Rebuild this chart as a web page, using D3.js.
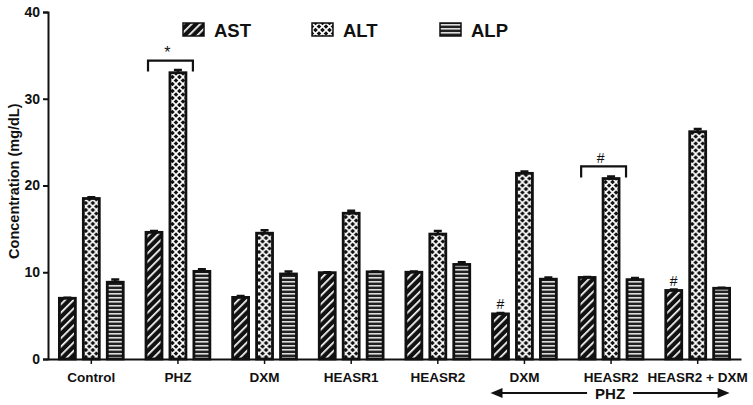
<!DOCTYPE html>
<html>
<head>
<meta charset="utf-8">
<script src="https://cdn.jsdelivr.net/npm/d3@7"></script>
<style>
  body { margin: 0; background: #fff; }
  svg { font-family: "Liberation Sans", Arial, sans-serif; font-weight: bold; }
</style>
</head>
<body>
<svg width="753" height="405"></svg>
<script>
var groups = ['Control', 'PHZ', 'DXM', 'HEASR1', 'HEASR2', 'PHZ DXM', 'PHZ HEASR2', 'PHZ HEASR2 + DXM'];
var groupLabels = ['Control', 'PHZ', 'DXM', 'HEASR1', 'HEASR2', 'DXM', 'HEASR2', 'HEASR2 + DXM'];
var series = ['AST', 'ALT', 'ALP'];
var astValues = [7.0, 14.6, 7.1, 9.95, 10.0, 5.2, 9.4, 7.9];
var altValues = [18.5, 33.0, 14.5, 16.8, 14.4, 21.4, 20.8, 26.2];
var alpValues = [8.85, 10.1, 9.8, 10.05, 10.9, 9.2, 9.15, 8.15];
var astErr = [0.05, 0.15, 0.15, 0.05, 0.1, 0.1, 0.05, 0.1];
var altErr = [0.15, 0.3, 0.35, 0.3, 0.35, 0.2, 0.25, 0.3];
var alpErr = [0.3, 0.25, 0.3, 0.05, 0.25, 0.2, 0.2, 0.05];
var yTicks = [0, 10, 20, 30, 40];

var svg = d3.select('svg');
var values = { AST: astValues, ALT: altValues, ALP: alpValues };
var errs = { AST: astErr, ALT: altErr, ALP: alpErr };

var y = d3.scaleLinear().domain([0, 40]).range([359, 12]);
var x0 = d3.scaleBand().domain(groups).range([48, 741]).paddingInner(0.24).paddingOuter(0.12);
var x1 = d3.scaleBand().domain(series).range([0, x0.bandwidth()]).paddingInner(0.25);

// fill patterns
var defs = svg.append('defs');
var pAst = defs.append('pattern').attr('id', 'p-AST').attr('patternUnits', 'userSpaceOnUse')
    .attr('width', 6).attr('height', 6).attr('patternTransform', 'rotate(45)');
pAst.append('rect').attr('width', 6).attr('height', 6).attr('fill', '#111');
pAst.append('rect').attr('x', 0).attr('width', 1.7).attr('height', 6).attr('fill', '#fff');

var pAlt = defs.append('pattern').attr('id', 'p-ALT').attr('patternUnits', 'userSpaceOnUse')
    .attr('width', 7).attr('height', 7);
pAlt.append('rect').attr('width', 7).attr('height', 7).attr('fill', '#111');
pAlt.append('path').attr('d', 'M0,0L7,7M7,0L0,7').attr('stroke', '#fff').attr('stroke-width', 1.6);

var pAlp = defs.append('pattern').attr('id', 'p-ALP').attr('patternUnits', 'userSpaceOnUse')
    .attr('width', 4).attr('height', 4);
pAlp.append('rect').attr('width', 4).attr('height', 4).attr('fill', '#222');
pAlp.append('rect').attr('y', 1).attr('width', 4).attr('height', 1.6).attr('fill', '#ddd');

// y axis
var yAxis = svg.append('g').attr('transform', 'translate(48,0)')
    .call(d3.axisLeft(y).tickValues(yTicks).tickSize(5).tickPadding(3));
yAxis.select('.domain').attr('stroke', '#111').attr('stroke-width', 2);
yAxis.selectAll('.tick line').attr('stroke', '#111').attr('stroke-width', 2);
yAxis.selectAll('.tick text').attr('font-size', 14).attr('font-weight', 'bold')
    .attr('font-family', '"Liberation Sans", Arial, sans-serif').attr('fill', '#111');

// x axis
var xAxis = svg.append('g').attr('transform', 'translate(0,' + y(0) + ')')
    .call(d3.axisBottom(x0).tickSize(5).tickSizeOuter(0).tickFormat(function (d, i) { return groupLabels[i]; }).tickPadding(8));
xAxis.select('.domain').attr('stroke', '#111').attr('stroke-width', 2);
xAxis.selectAll('.tick line').attr('stroke', '#111').attr('stroke-width', 1.5);
xAxis.selectAll('.tick text').attr('font-size', 13.5).attr('font-weight', 'bold')
    .attr('font-family', '"Liberation Sans", Arial, sans-serif').attr('fill', '#111');

svg.append('text')
    .attr('transform', 'translate(19,' + y(20.5) + ') rotate(-90)')
    .attr('text-anchor', 'middle').attr('font-size', 14.5).attr('fill', '#111')
    .text('Concentration (mg/dL)');

// bars
var rows = [];
groups.forEach(function (g, i) {
    series.forEach(function (s) {
        rows.push({ group: g, key: s, value: values[s][i], err: errs[s][i] });
    });
});

var bar = svg.append('g').selectAll('g').data(rows).enter().append('g')
    .attr('transform', function (d) { return 'translate(' + (x0(d.group) + x1(d.key)) + ',0)'; });

bar.append('rect')
    .attr('x', 1).attr('width', x1.bandwidth() - 2)
    .attr('y', function (d) { return y(d.value); })
    .attr('height', function (d) { return y(0) - y(d.value); })
    .attr('fill', function (d) { return 'url(#p-' + d.key + ')'; })
    .attr('stroke', '#111').attr('stroke-width', 2.8);

bar.append('path')
    .attr('d', function (d) {
        var c = x1.bandwidth() / 2, t = y(d.value + d.err);
        return 'M' + c + ',' + y(d.value) + 'V' + t + 'M' + (c - 4) + ',' + t + 'H' + (c + 4);
    })
    .attr('stroke', '#111').attr('stroke-width', 2.5).attr('fill', 'none');

// legend
var legendX = [183, 312, 440];
var legend = svg.append('g').selectAll('g').data(series).enter().append('g')
    .attr('transform', function (d, i) { return 'translate(' + legendX[i] + ',23)'; });
legend.append('rect').attr('width', 21).attr('height', 13)
    .attr('fill', function (d) { return 'url(#p-' + d + ')'; })
    .attr('stroke', '#111').attr('stroke-width', 1.5);
legend.append('text').attr('x', 31).attr('y', 13.5).attr('font-size', 18.5).attr('fill', '#111')
    .text(function (d) { return d; });

// significance marks
function bracket(g, yv, label) {
    var xl = x0(g) + x1('AST') + 3, xr = x0(g) + x1('ALT') + x1.bandwidth() + 6;
    var yb = y(yv);
    svg.append('path').attr('d', 'M' + xl + ',' + (yb + 11) + 'V' + yb + 'H' + xr + 'V' + (yb + 11))
        .attr('stroke', '#111').attr('stroke-width', 2.2).attr('fill', 'none');
    svg.append('text').attr('x', (xl + xr) / 2 - 3).attr('y', yb - 3).attr('text-anchor', 'middle')
        .attr('font-size', label === '*' ? 16 : 14).attr('font-weight', 'normal').attr('fill', '#111').text(label);
}
bracket('PHZ', 34.4, '*');
bracket('PHZ HEASR2', 22.2, '#');

function markAbove(g, key, label) {
    var i = groups.indexOf(g);
    svg.append('text').attr('x', x0(g) + x1(key) + x1.bandwidth() / 2)
        .attr('y', y(values[key][i] + errs[key][i]) - 4)
        .attr('text-anchor', 'middle').attr('font-size', 14).attr('font-weight', 'normal')
        .attr('fill', '#111').text(label);
}
markAbove('PHZ DXM', 'AST', '#');
markAbove('PHZ HEASR2 + DXM', 'AST', '#');

// PHZ arrow
var ax0 = x0('PHZ DXM') + x1('AST') - 1;
var ax1 = x0('PHZ HEASR2 + DXM') + x0.bandwidth() - 1;
var ay = 393, amid = (ax0 + ax1) / 2;
svg.append('path').attr('d', 'M' + (ax0 + 10) + ',' + ay + 'H' + (amid - 23) + 'M' + (amid + 23) + ',' + ay + 'H' + (ax1 - 10))
    .attr('stroke', '#111').attr('stroke-width', 2);
svg.append('path').attr('d', 'M' + ax0 + ',' + ay + 'l12,-5v10z').attr('fill', '#111');
svg.append('path').attr('d', 'M' + ax1 + ',' + ay + 'l-12,-5v10z').attr('fill', '#111');
svg.append('text').attr('x', amid).attr('y', ay + 5.5).attr('text-anchor', 'middle')
    .attr('font-size', 15).attr('fill', '#111').text('PHZ');
</script>
</body>
</html>
